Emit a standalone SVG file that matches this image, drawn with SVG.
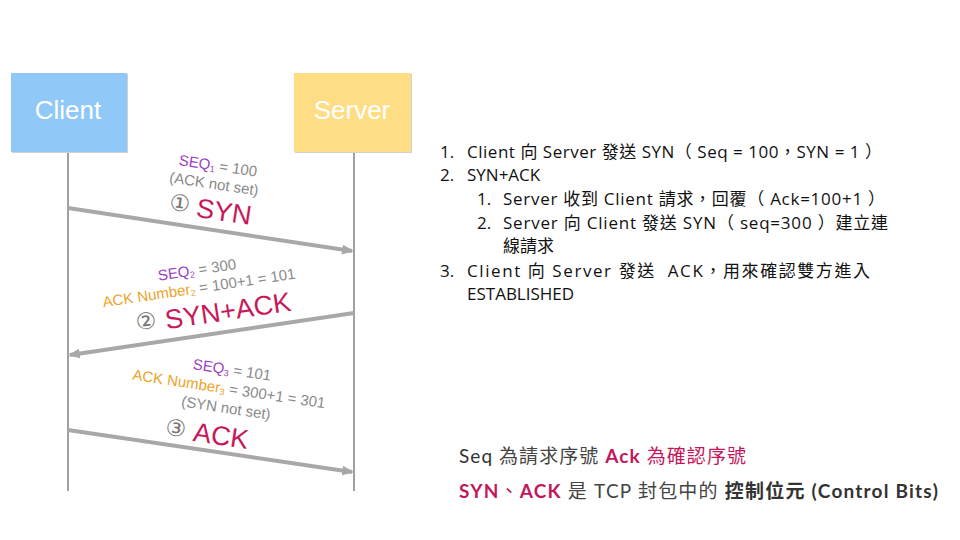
<svg xmlns="http://www.w3.org/2000/svg" width="960" height="540" viewBox="0 0 960 540">
<defs>
<style>
.lbl{font-family:"Liberation Sans","DejaVu Sans",sans-serif;fill:#ffffff;font-size:26px;text-anchor:middle}
.life{stroke:#a0a0a0;stroke-width:2;fill:none}
.arr{stroke:#a8a8a8;stroke-width:4;fill:none;marker-end:url(#ah)}
.t{font-family:"Liberation Sans","DejaVu Sans",sans-serif;font-size:15px;fill:#8a8a8a;text-anchor:middle}
.seq{fill:#9b3fc1}
.ackn{fill:#eba42a}
.big{font-size:27px;fill:#c8195a}
.circ{font-family:"DejaVu Sans",sans-serif;font-size:23px;fill:#777}
.list{font-family:"Open Sans","Noto Sans CJK TC",sans-serif;font-size:17px;fill:#111}
.note{font-family:"Lato","Noto Sans CJK TC",sans-serif;font-size:19px;fill:#444}
.pk{fill:#c2185b}
.bd{font-weight:bold}
</style>
<marker id="ah" markerWidth="12" markerHeight="10" refX="10" refY="5" orient="auto" markerUnits="userSpaceOnUse">
<path d="M0,0 L12,5 L0,10 Z" fill="#a8a8a8"/>
</marker>
</defs>

<g id="client">
<rect x="12" y="74" width="116" height="79" fill="#d0d0d0"/>
<rect x="11" y="73" width="116" height="79" fill="#90c9f7"/>
<text class="lbl" x="68" y="119">Client</text>
</g>
<g id="server">
<rect x="295" y="74" width="117" height="79" fill="#d0d0d0"/>
<rect x="294" y="73" width="117" height="79" fill="#fedd84"/>
<text class="lbl" x="352" y="119">Server</text>
</g>

<g id="lifelines">
<line class="life" x1="68" y1="153" x2="68" y2="491"/>
<line class="life" x1="354" y1="153" x2="354" y2="491"/>
</g>

<g id="connectors">
<line class="arr" x1="68" y1="208" x2="352" y2="251"/>
<line class="arr" x1="354" y1="313" x2="70" y2="355"/>
<line class="arr" x1="68" y1="430" x2="352" y2="472"/>
</g>

<g id="msg1">
<text class="t" y="5" transform="translate(218,166) rotate(8.5)"><tspan class="seq">SEQ</tspan><tspan class="seq" font-size="9" dy="2">1</tspan><tspan dy="-2"> = 100</tspan></text>
<text class="t" y="5" transform="translate(214,184) rotate(8.5)">(ACK not set)</text>
<text class="t circ" y="8" transform="translate(180,203) rotate(8.5)">①</text>
<text class="t big" y="9" transform="translate(224,212) rotate(8.5)">SYN</text>
</g>

<g id="msg2">
<text class="t" y="5" transform="translate(197,270) rotate(-8.5)"><tspan class="seq">SEQ</tspan><tspan class="seq" font-size="9" dy="2">2</tspan><tspan dy="-2"> = 300</tspan></text>
<text class="t" y="5" transform="translate(199,288) rotate(-8.5)"><tspan class="ackn">ACK Number</tspan><tspan class="ackn" font-size="9" dy="2">2</tspan><tspan dy="-2"> = 100+1 = 101</tspan></text>
<text class="t circ" y="8" transform="translate(146,321) rotate(-8.5)">②</text>
<text class="t big" y="9" transform="translate(228,311) rotate(-8.5)">SYN+ACK</text>
</g>

<g id="msg3">
<text class="t" y="5" transform="translate(232,370) rotate(8.5)"><tspan class="seq">SEQ</tspan><tspan class="seq" font-size="9" dy="2">3</tspan><tspan dy="-2"> = 101</tspan></text>
<text class="t" y="5" transform="translate(229,389) rotate(8.5)"><tspan class="ackn">ACK Number</tspan><tspan class="ackn" font-size="9" dy="2">3</tspan><tspan dy="-2"> = 300+1 = 301</tspan></text>
<text class="t" y="5" transform="translate(226,408) rotate(8.5)">(SYN not set)</text>
<text class="t circ" y="8" transform="translate(176,428) rotate(8.5)">③</text>
<text class="t big" y="9" transform="translate(221,436) rotate(8.5)">ACK</text>
</g>

<g id="steps" class="list">
<text x="440" y="158">1.</text><text x="467" y="158" textLength="415" lengthAdjust="spacing">Client 向 Server 發送 SYN（ Seq = 100，SYN = 1 ）</text>
<text x="440" y="181">2.</text><text x="467" y="181">SYN+ACK</text>
<text x="477" y="205">1.</text><text x="503" y="205" textLength="382" lengthAdjust="spacing">Server 收到 Client 請求，回覆（ Ack=100+1 ）</text>
<text x="477" y="229">2.</text><text x="503" y="229" textLength="385" lengthAdjust="spacing">Server 向 Client 發送 SYN（ seq=300 ）建立連</text>
<text x="503" y="252">線請求</text>
<text x="440" y="277">3.</text><text x="467" y="277" textLength="403" lengthAdjust="spacing">Client 向 Server 發送 &#160;ACK，用來確認雙方進入</text>
<text x="467" y="300">ESTABLISHED</text>
</g>

<g id="notes" class="note">
<text x="459" y="463" textLength="287" lengthAdjust="spacing"><tspan fill="#333">Seq</tspan> 為請求序號 <tspan class="pk bd">Ack</tspan> <tspan class="pk">為確認序號</tspan></text>
<text x="459" y="498" textLength="479" lengthAdjust="spacing"><tspan class="pk bd">SYN</tspan><tspan class="pk">、</tspan><tspan class="pk bd">ACK</tspan> 是 TCP 封包中的 <tspan class="bd" fill="#333">控制位元 (Control Bits)</tspan></text>
</g>
</svg>
